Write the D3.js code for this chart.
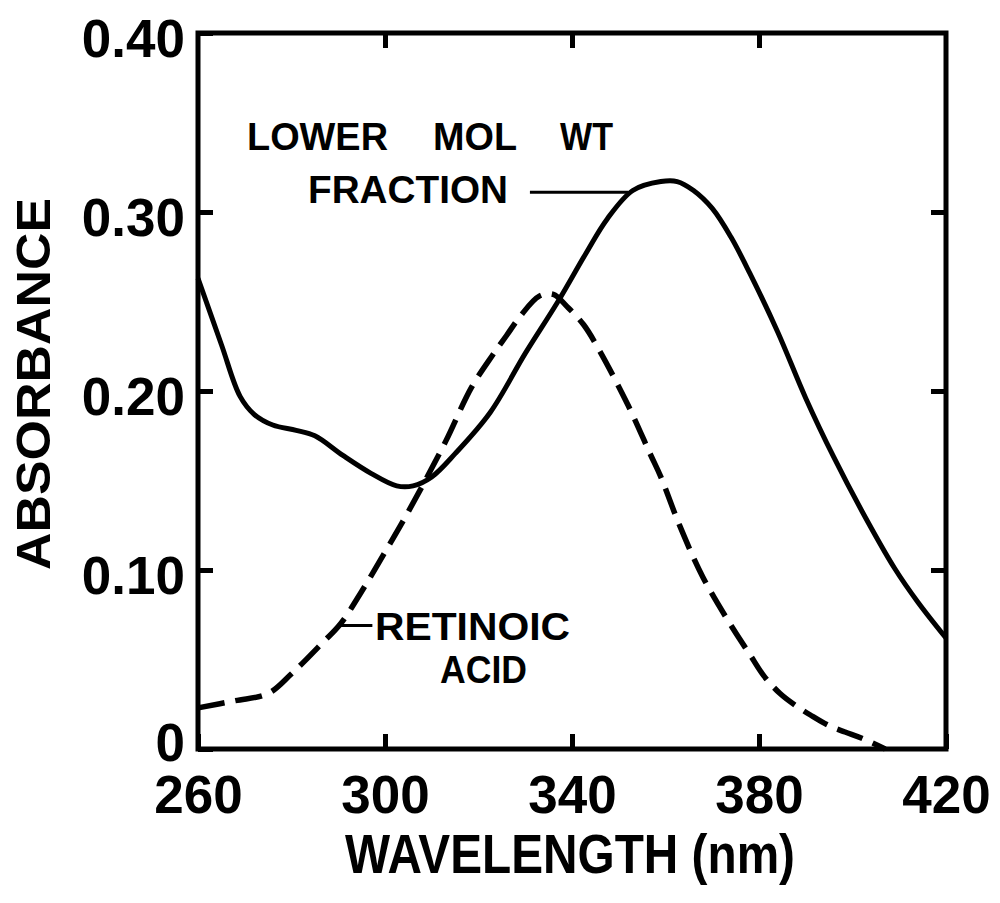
<!DOCTYPE html>
<html>
<head>
<meta charset="utf-8">
<script src="https://cdn.jsdelivr.net/npm/d3@7"></script>
<style>
  html, body { margin: 0; padding: 0; background: #fff; }
  svg { display: block; }
  text { font-family: "Liberation Sans", Arial, sans-serif; font-weight: bold; fill: #000; }
</style>
</head>
<body>
<svg id="chart" width="1000" height="903"></svg>
<script>
// Wavelength (nm) and absorbance readings for each spectrum
const fractionWavelength = [260, 265, 269, 272, 276, 281, 285, 291, 297, 302.5, 306, 310, 315, 322.5, 330, 337, 343, 347.5, 353, 359, 362.5, 366, 370, 374, 378, 384, 390, 396, 402, 409, 414, 420];
const fractionAbsorbance = [0.263, 0.226, 0.197, 0.187, 0.181, 0.178, 0.175, 0.164, 0.154, 0.147, 0.147, 0.152, 0.165, 0.188, 0.221, 0.250, 0.277, 0.296, 0.312, 0.317, 0.317, 0.312, 0.302, 0.286, 0.266, 0.233, 0.196, 0.163, 0.133, 0.101, 0.082, 0.062];

const retinoicWavelength = [260, 268, 275, 280, 286.5, 290.5, 295, 300, 304, 308, 313, 318.5, 323, 326, 329, 333, 336, 339, 342.5, 346, 352, 356.7, 359, 363, 368, 374.5, 378, 381, 384.5, 388, 391, 395, 398.4, 402, 407];
const retinoicAbsorbance = [0.023, 0.027, 0.031, 0.042, 0.059, 0.070, 0.088, 0.110, 0.128, 0.147, 0.172, 0.202, 0.220, 0.231, 0.242, 0.253, 0.254, 0.247, 0.237, 0.222, 0.192, 0.165, 0.152, 0.125, 0.096, 0.067, 0.053, 0.041, 0.031, 0.024, 0.019, 0.013, 0.0095, 0.006, 0.000];

// Axis ticks and their labels
const xTickValues = [260, 300, 340, 380, 420];
const xTickLabels = ["260", "300", "340", "380", "420"];
const yTickValues = [0, 0.1, 0.2, 0.3, 0.4];
const yTickLabels = ["0", "0.10", "0.20", "0.30", "0.40"];

const svg = d3.select("#chart");

const x = d3.scaleLinear().domain([260, 420]).range([198, 946]);
const y = d3.scaleLinear().domain([0, 0.4]).range([749, 33]);

// Frame
svg.append("rect")
  .attr("x", x(260)).attr("y", y(0.4))
  .attr("width", x(420) - x(260)).attr("height", y(0) - y(0.4))
  .attr("fill", "none").attr("stroke", "#000").attr("stroke-width", 5);

function styleAxis(g, showText) {
  g.select(".domain").remove();
  g.selectAll(".tick line").attr("stroke", "#000").attr("stroke-width", 5);
  if (!showText) g.selectAll(".tick text").remove();
}

// Bottom axis with labels
svg.append("g")
  .attr("transform", `translate(0,${y(0)})`)
  .call(d3.axisBottom(x).tickValues(xTickValues)
    .tickFormat((d, i) => xTickLabels[i]).tickSize(-15).tickPadding(26))
  .call(g => styleAxis(g, true))
  .call(g => g.selectAll(".tick text").attr("font-size", 53).attr("fill", "#000")
    .attr("font-family", "Liberation Sans, Arial, sans-serif").attr("font-weight", "bold"));

// Top axis (ticks only)
svg.append("g")
  .attr("transform", `translate(0,${y(0.4)})`)
  .call(d3.axisTop(x).tickValues(xTickValues.slice(1, -1)).tickSize(-15))
  .call(g => styleAxis(g, false));

// Left axis with labels; the zero label sits a little higher, clear of the x labels
svg.append("g")
  .attr("transform", `translate(${x(260)},0)`)
  .call(d3.axisLeft(y).tickValues(yTickValues)
    .tickFormat((d, i) => yTickLabels[i]).tickSize(-15).tickPadding(13))
  .call(g => styleAxis(g, true))
  .call(g => g.selectAll(".tick text").attr("font-size", 53)
    .attr("dy", d => d === 0 ? "0.22em" : "0.44em").attr("fill", "#000")
    .attr("font-family", "Liberation Sans, Arial, sans-serif").attr("font-weight", "bold"));

// Right axis (ticks only)
svg.append("g")
  .attr("transform", `translate(${x(420)},0)`)
  .call(d3.axisRight(y).tickValues(yTickValues.slice(1, -1)).tickSize(-15))
  .call(g => styleAxis(g, false));

// Spectra
const line = d3.line()
  .x(d => x(d[0])).y(d => y(d[1]))
  .curve(d3.curveCatmullRom.alpha(0.5));

const fractionData = fractionWavelength.map((w, i) => [w, fractionAbsorbance[i]]);
const retinoicData = retinoicWavelength.map((w, i) => [w, retinoicAbsorbance[i]]);

svg.append("path").datum(fractionData)
  .attr("d", line).attr("fill", "none")
  .attr("stroke", "#000").attr("stroke-width", 5)
  .attr("stroke-linejoin", "round");

svg.append("path").datum(retinoicData)
  .attr("d", line).attr("fill", "none")
  .attr("stroke", "#000").attr("stroke-width", 5.5)
  .attr("stroke-dasharray", "27,11");

// Curve labels with leader lines
function label(txt, xPos, yBase, size, len) {
  svg.append("text").attr("x", xPos).attr("y", yBase)
    .attr("font-size", size).attr("textLength", len)
    .attr("lengthAdjust", "spacingAndGlyphs").text(txt);
}
label("LOWER", 247, 150, 38, 141);
label("MOL", 433, 150, 38, 84);
label("WT", 560, 150, 38, 53);
label("FRACTION", 308, 203, 38, 200);

svg.append("line")
  .attr("x1", x(331)).attr("x2", x(352))
  .attr("y1", y(0.311)).attr("y2", y(0.311))
  .attr("stroke", "#000").attr("stroke-width", 3);

label("RETINOIC", 375, 640, 38, 195);
label("ACID", 440, 683, 38, 87);

svg.append("line")
  .attr("x1", x(290.3)).attr("x2", x(297.3))
  .attr("y1", y(0.069)).attr("y2", y(0.069))
  .attr("stroke", "#000").attr("stroke-width", 3);

// Axis titles
svg.append("text")
  .attr("x", 570).attr("y", 873)
  .attr("text-anchor", "middle").attr("font-size", 55)
  .attr("textLength", 450).attr("lengthAdjust", "spacingAndGlyphs")
  .text("WAVELENGTH (nm)");

svg.append("text")
  .attr("transform", "translate(50,384) rotate(-90)")
  .attr("text-anchor", "middle").attr("font-size", 48)
  .attr("textLength", 372).attr("lengthAdjust", "spacingAndGlyphs")
  .text("ABSORBANCE");
</script>
</body>
</html>
